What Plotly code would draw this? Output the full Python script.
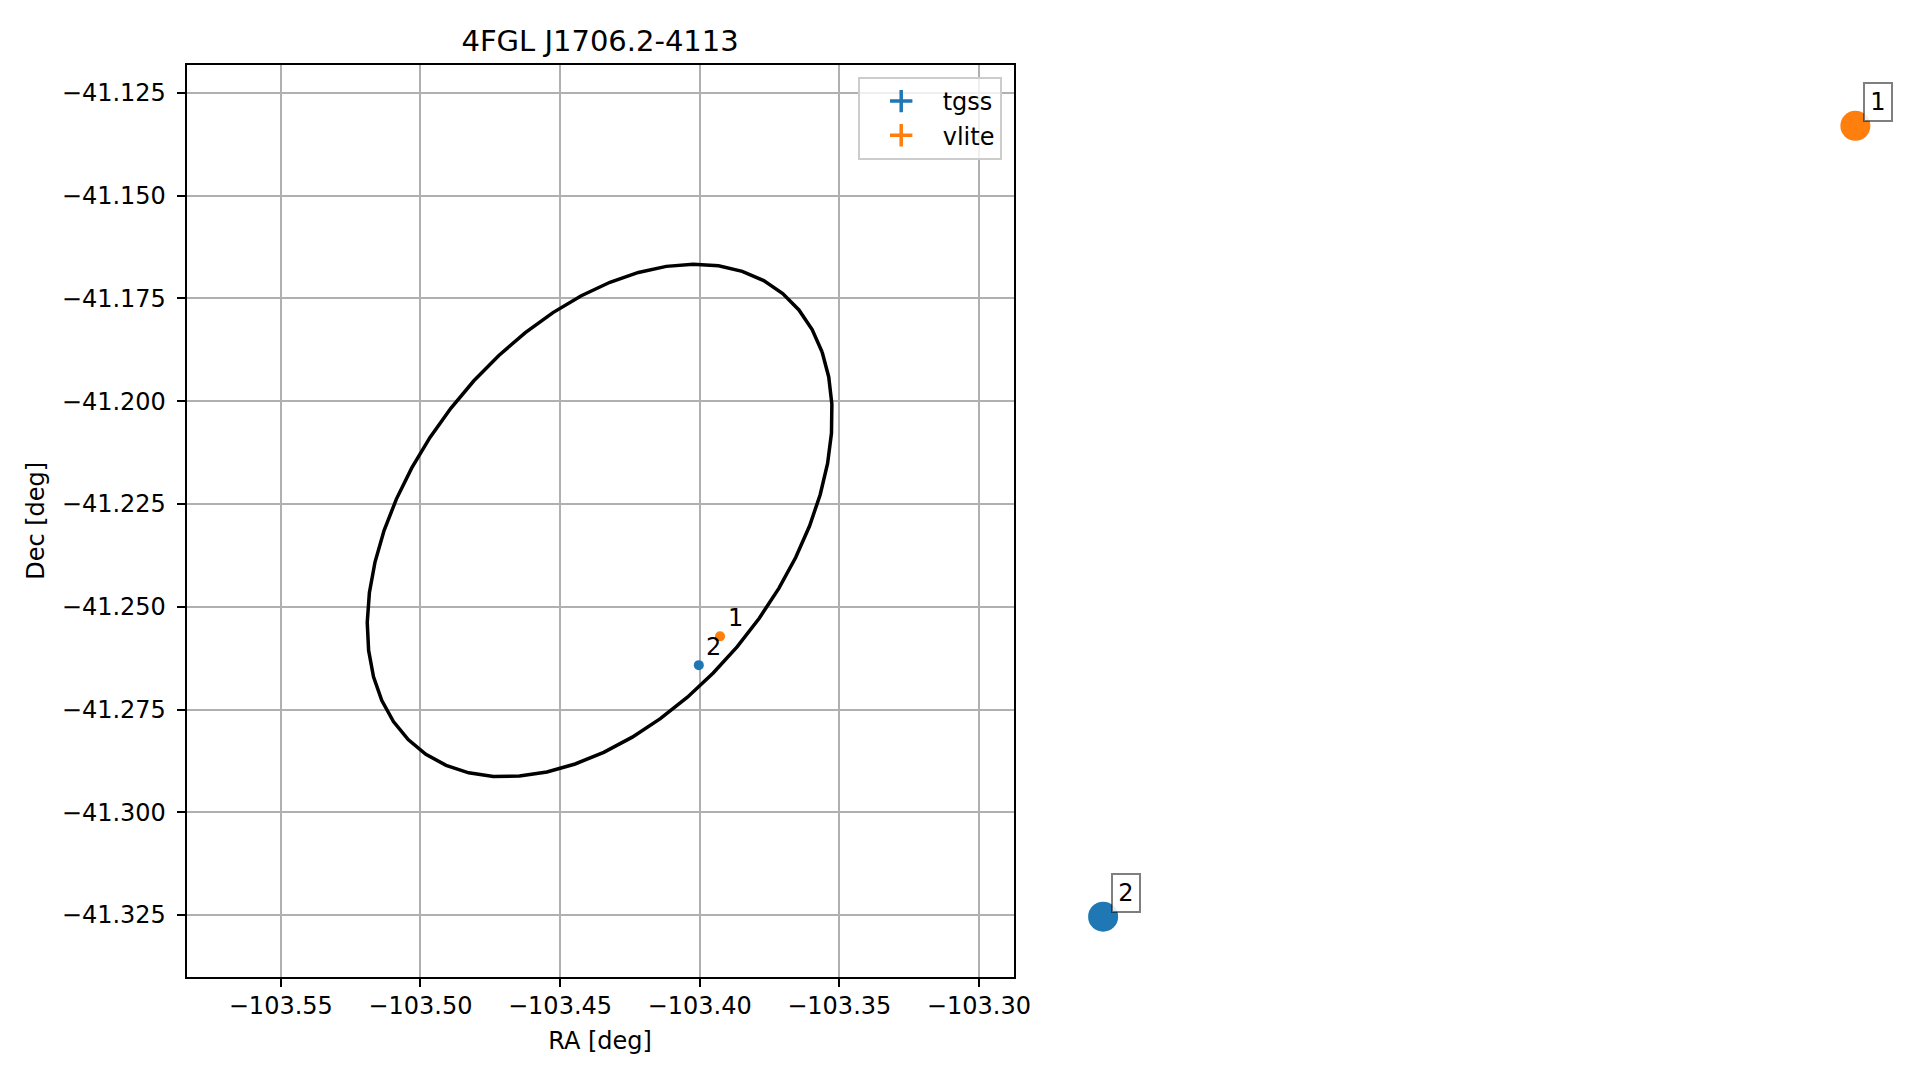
import numpy as np
import plotly.graph_objects as go

# ---------------- data ----------------
TITLE = "4FGL J1706.2-4113"
X_LABEL = "RA [deg]"
Y_LABEL = "Dec [deg]"

X_TICKS = [-103.55, -103.50, -103.45, -103.40, -103.35, -103.30]
X_TICK_LABELS = ["−103.55", "−103.50", "−103.45", "−103.40", "−103.35", "−103.30"]
Y_TICKS = [-41.125, -41.150, -41.175, -41.200, -41.225, -41.250, -41.275, -41.300, -41.325]
Y_TICK_LABELS = ["−41.125", "−41.150", "−41.175", "−41.200", "−41.225",
                 "−41.250", "−41.275", "−41.300", "−41.325"]
X_RANGE = [-103.5837, -103.2876]
Y_RANGE = [-41.3400, -41.1182]

# 4FGL error ellipse (centre, semi-axes, position angle in plot frame)
ELL_RA = -103.4358
ELL_DEC = -41.2290
ELL_A = 0.08959
ELL_B = 0.05284
ELL_ANGLE_DEG = 27.23
ELL_NPTS = 52

# radio counterparts
SURVEYS = ["tgss", "vlite"]
SRC_RA = [-103.4003, -103.3927]
SRC_DEC = [-41.2642, -41.2572]
SRC_LABEL = ["2", "1"]
COLORS = ["#1f77b4", "#ff7f0e"]

# large markers drawn outside the axes
BIG_RA = [-103.2555, -102.9861]
BIG_DEC = [-41.3254, -41.1330]
BIG_LABEL = ["2", "1"]

# ---------------- layout geometry ----------------
OFF = 8  # page body margin
W, H = 1919 - OFF, 1080 - OFF
AX_L, AX_R, AX_T, AX_B = 186.7 - OFF, 1013.5 - OFF, 65.0 - OFF, 976.7 - OFF
xdom = [AX_L / W, AX_R / W]
ydom = [1 - AX_B / H, 1 - AX_T / H]

kx = (X_RANGE[1] - X_RANGE[0]) / (xdom[1] - xdom[0])
ky = (Y_RANGE[1] - Y_RANGE[0]) / (ydom[1] - ydom[0])
X2_RANGE = [X_RANGE[0] - xdom[0] * kx, X_RANGE[1] + (1 - xdom[1]) * kx]
Y2_RANGE = [Y_RANGE[0] - ydom[0] * ky, Y_RANGE[1] + (1 - ydom[1]) * ky]

FONT = "DejaVu Sans"

fig = go.Figure()

# ellipse
t = np.linspace(0, 2 * np.pi, ELL_NPTS)
th = np.deg2rad(ELL_ANGLE_DEG)
ex = ELL_RA + ELL_A * np.cos(t) * np.cos(th) - ELL_B * np.sin(t) * np.sin(th)
ey = ELL_DEC + ELL_A * np.cos(t) * np.sin(th) + ELL_B * np.sin(t) * np.cos(th)
fig.add_trace(go.Scatter(x=ex, y=ey, mode="lines", line=dict(color="black", width=3.5),
                         showlegend=False, hoverinfo="skip"))

# points
for i, s in enumerate(SURVEYS):
    fig.add_trace(go.Scatter(x=[SRC_RA[i]], y=[SRC_DEC[i]], mode="markers",
                             marker=dict(color=COLORS[i], size=10),
                             showlegend=False, name=s))
# legend proxies
for i, s in enumerate(SURVEYS):
    fig.add_trace(go.Scatter(x=[None], y=[None], mode="markers", name=s,
                             marker=dict(symbol="cross-thin", size=17, color=COLORS[i],
                                         line=dict(color=COLORS[i], width=3.5))))

# big outside markers on full-figure overlay axes
fig.add_trace(go.Scatter(x=BIG_RA, y=BIG_DEC, mode="markers", xaxis="x2", yaxis="y2",
                         marker=dict(color=COLORS, size=30), showlegend=False,
                         cliponaxis=False))

annotations = []
for i in range(len(SURVEYS)):
    annotations.append(dict(x=SRC_RA[i], y=SRC_DEC[i], xref="x", yref="y",
                            text=SRC_LABEL[i], showarrow=False, xshift=15, yshift=18,
                            font=dict(family=FONT, size=24, color="black")))
for i in range(len(BIG_RA)):
    annotations.append(dict(x=BIG_RA[i], y=BIG_DEC[i], xref="x2", yref="y2",
                            text=BIG_LABEL[i], showarrow=False, xshift=23, yshift=24,
                            width=22, height=32, borderpad=2, borderwidth=2,
                            bordercolor="rgba(0,0,0,0.5)", bgcolor="rgba(255,255,255,0.85)",
                            font=dict(family=FONT, size=24, color="black")))

axis_common = dict(showline=True, mirror=True, linecolor="black", linewidth=2,
                   ticks="outside", ticklen=8, tickwidth=2, tickcolor="black",
                   showgrid=True, gridcolor="#b0b0b0", gridwidth=2, zeroline=False,
                   tickfont=dict(family=FONT, size=24, color="black"),
                   automargin=False)

fig.update_layout(
    width=W, height=H,
    margin=dict(l=0, r=0, t=0, b=0, autoexpand=False),
    paper_bgcolor="white", plot_bgcolor="rgba(0,0,0,0)",
    template="none",
    font=dict(family=FONT, color="black"),
    title=dict(text=TITLE, x=(AX_L + AX_R) / 2 / W, xanchor="center",
               y=1 - (40.5 - OFF) / H, yanchor="middle", xref="paper", yref="container",
               font=dict(family=FONT, size=29, color="black")),
    xaxis=dict(domain=xdom, range=X_RANGE, tickvals=X_TICKS, ticktext=X_TICK_LABELS,
               anchor="y", ticklabelstandoff=-2,
               title=dict(text=X_LABEL, standoff=14, font=dict(family=FONT, size=24)),
               **axis_common),
    yaxis=dict(domain=ydom, range=Y_RANGE, tickvals=Y_TICKS, ticktext=Y_TICK_LABELS,
               anchor="x", ticklabelstandoff=6,
               title=dict(text=Y_LABEL, standoff=10, font=dict(family=FONT, size=24)),
               **axis_common),
    xaxis2=dict(domain=[0, 1], range=X2_RANGE, anchor="y2", visible=False,
                showgrid=False, zeroline=False),
    yaxis2=dict(domain=[0, 1], range=Y2_RANGE, anchor="x2", visible=False,
                showgrid=False, zeroline=False),
    legend=dict(x=(AX_R - 11.8) / W, xanchor="right", y=1 - (AX_T + 12) / H, yanchor="top",
                bgcolor="rgba(255,255,255,0.8)", bordercolor="#cccccc", borderwidth=2,
                font=dict(family=FONT, size=24, color="black"), itemwidth=73),
    annotations=annotations,
    showlegend=True,
)

fig.write_html("out.html")
